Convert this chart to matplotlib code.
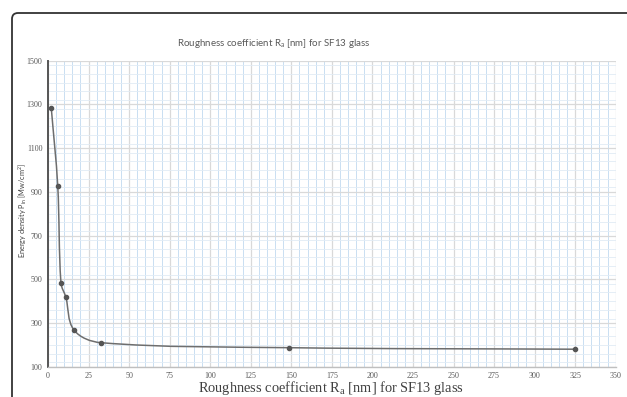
import numpy as np
import matplotlib
matplotlib.use('Agg')
import matplotlib.pyplot as plt
from matplotlib.path import Path
from matplotlib.patches import PathPatch, FancyBboxPatch
from matplotlib.ticker import MultipleLocator
from matplotlib.transforms import IdentityTransform

# roughness Ra [nm] vs energy density Pin [Mw/cm2]
roughness = [2, 6, 8, 11, 16, 32.5, 148.5, 325]
energy = [1285, 928, 482, 418, 268, 210, 187, 180]

x_ticks = np.arange(0, 351, 25)
y_ticks = np.arange(100, 1501, 200)

W, H = 627, 397
fig = plt.figure(figsize=(W / 100, H / 100), dpi=100)
ax = fig.add_axes([48 / W, 1 - 366.7 / H, (615.7 - 48) / W, (366.7 - 60.7) / H])
ax.set_xlim(0, 350)
ax.set_ylim(100, 1500)

# grid like the excel sheet
ax.set_xticks(x_ticks)
ax.xaxis.set_minor_locator(MultipleLocator(5))
ax.set_yticks(y_ticks)
ax.yaxis.set_minor_locator(MultipleLocator(40))
ax.grid(which='major', color='#d9d9d9', lw=0.9)
ax.grid(which='minor', axis='x', color='#c9def2', lw=0.7)
ax.grid(which='minor', axis='y', color='#e1ebf5', lw=0.6)
ax.set_axisbelow(True)
ax.tick_params(which='both', length=0)
ax.tick_params(labelsize=5.8, labelcolor='#595959', pad=4)
for lab in ax.get_xticklabels() + ax.get_yticklabels():
    lab.set_family('Liberation Serif')
for s in ['top', 'right']:
    ax.spines[s].set_visible(False)
ax.spines['left'].set_color('#555555')
ax.spines['left'].set_linewidth(1.4)
ax.spines['bottom'].set_color('#bfbfbf')
ax.spines['bottom'].set_linewidth(1.0)

# smoothed line (bezier through the points, built in pixel space)
pts = ax.transData.transform(np.column_stack([roughness, energy]))
n = len(pts)
tang = []
for i in range(n):
    a = pts[max(i - 1, 0)]
    b = pts[min(i + 1, n - 1)]
    d = b - a
    tang.append(d / np.hypot(*d))
verts = [pts[0]]
codes = [Path.MOVETO]
for i in range(n - 1):
    L = np.hypot(*(pts[i + 1] - pts[i])) / 3
    verts += [pts[i] + tang[i] * L, pts[i + 1] - tang[i + 1] * L, pts[i + 1]]
    codes += [Path.CURVE4] * 3
verts = ax.transData.inverted().transform(np.array(verts))
ax.add_patch(PathPatch(Path(verts, codes), fill=False, ec='#6e6e6e', lw=1.1))
ax.plot(roughness, energy, 'o', color='#555555', ms=3, ls='none')

fig.text(274 / W, 1 - 44 / H, r'Roughness coefficient R$\mathregular{_a}$ [nm] for SF13 glass',
         ha='center', va='center', fontsize=7, family='Lato', color='#595959')
fig.text(331 / W, 1 - 388 / H, r'Roughness coefficient R$\mathregular{_a}$ [nm] for SF13 glass',
         ha='center', va='center', fontsize=10.4, family='Liberation Serif', color='#404040')
fig.text(23 / W, 1 - 210 / H, r'Energy density P$\mathregular{_{in}}$ [Mw/cm$\mathregular{^2}$]',
         ha='center', va='center', rotation=90, fontsize=5.3, family='Lato', color='#404040')

fig.patches.append(FancyBboxPatch((12, -60), 700, H - 13 + 60, boxstyle='round,pad=0,rounding_size=6',
                                  transform=IdentityTransform(), fill=False, ec='#333333', lw=1.3))

fig.savefig('out.png', dpi=100)
